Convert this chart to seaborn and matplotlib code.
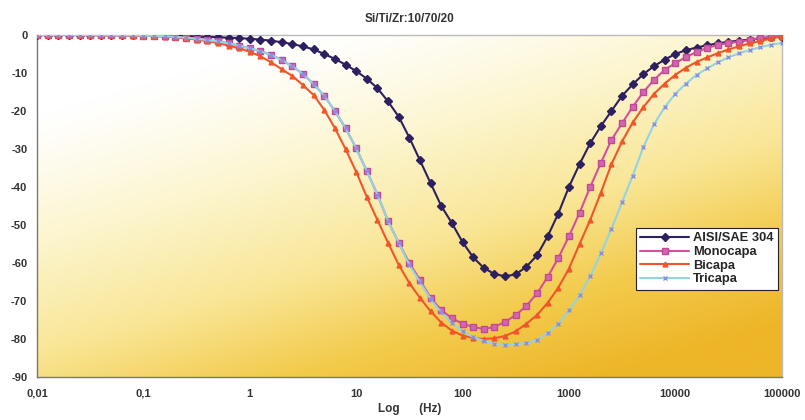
import numpy as np
import pandas as pd
import matplotlib
matplotlib.use("Agg")
import matplotlib.pyplot as plt
import seaborn as sns
from matplotlib.colors import LinearSegmentedColormap

# frequency grid: 10 points per decade, 0.01 Hz .. 100 kHz
freq_hz = 10 ** (np.arange(71) / 10 - 2)

aisi_sae_304 = [
    0, 0, 0, 0, 0, 0, 0, 0, 0, 0,
    0, 0, -0.1, -0.2, -0.3, -0.4, -0.5, -0.6, -0.7, -0.8,
    -1.0, -1.2, -1.5, -1.9, -2.4, -3.0, -3.8, -5.0, -6.3, -7.8,
    -9.5, -11.5, -14.0, -17.5, -21.5, -27.0, -33.0, -39.0, -45.0, -49.5,
    -54.5, -58.5, -61.3, -62.9, -63.5, -63.0, -61.0, -58.0, -53.0, -47.0,
    -40.0, -34.0, -28.5, -24.0, -20.0, -16.0, -13.0, -10.3, -8.2, -6.5,
    -5.0, -4.0, -3.3, -2.7, -2.2, -1.8, -1.5, -1.2, -0.9, -0.6,
    -0.4,
]

monocapa = [
    0, 0, 0, 0, 0, 0, -0.1, -0.1, -0.1, -0.1,
    -0.2, -0.2, -0.3, -0.5, -0.7, -1.0, -1.3, -1.7, -2.2, -2.8,
    -3.5, -4.3, -5.2, -6.6, -8.2, -10.3, -12.9, -16.0, -20.0, -24.5,
    -29.8, -35.8, -42.0, -49.0, -54.7, -60.0, -64.5, -69.2, -72.4, -74.5,
    -76.0, -76.8, -77.4, -76.8, -75.5, -73.7, -71.3, -68.0, -63.7, -58.7,
    -53.0, -46.8, -40.0, -33.7, -27.6, -23.2, -18.9, -15.0, -11.8, -9.2,
    -7.4, -5.8, -4.5, -3.4, -2.6, -2.1, -1.8, -1.3, -0.8, -0.5,
    -0.3,
]

bicapa = [
    0, 0, 0, 0, 0, 0, -0.1, -0.1, -0.1, -0.2,
    -0.2, -0.3, -0.4, -0.6, -0.9, -1.2, -1.6, -2.1, -2.8, -3.5,
    -4.4, -5.6, -7.2, -9.0, -10.8, -13.2, -15.8, -19.7, -24.5, -30.0,
    -36.0, -42.6, -48.7, -54.7, -60.5, -65.3, -69.2, -72.7, -75.7, -77.8,
    -79.1, -79.7, -80.0, -79.8, -79.2, -78.0, -76.0, -73.7, -70.5, -66.5,
    -61.5, -55.0, -48.7, -41.5, -34.0, -28.0, -23.0, -19.0, -15.5, -12.8,
    -10.5, -8.6, -7.1, -5.9, -4.8, -3.8, -3.0, -2.2, -1.6, -0.9,
    -0.4,
]

tricapa = [
    0, 0, 0, 0, 0, 0, -0.1, -0.1, -0.1, -0.1,
    -0.2, -0.2, -0.3, -0.5, -0.7, -1.0, -1.3, -1.7, -2.2, -2.8,
    -3.5, -4.3, -5.2, -6.6, -8.2, -10.3, -12.9, -16.0, -20.0, -24.5,
    -29.8, -35.8, -42.0, -49.0, -54.7, -60.5, -65.0, -69.5, -73.0, -75.8,
    -78.0, -79.5, -80.5, -81.2, -81.5, -81.4, -81.0, -80.3, -78.5, -76.0,
    -72.5, -68.5, -63.5, -57.5, -51.0, -44.0, -37.0, -29.5, -23.5, -19.0,
    -15.5, -12.8, -10.5, -8.8, -7.2, -5.9, -4.8, -4.0, -3.2, -2.6,
    -2.1,
]

series_names = ["AISI/SAE 304", "Monocapa", "Bicapa", "Tricapa"]
series_values = [aisi_sae_304, monocapa, bicapa, tricapa]

x_ticks = [0.01, 0.1, 1, 10, 100, 1000, 10000, 100000]
x_tick_labels = ["0,01", "0,1", "1", "10", "100", "1000", "10000", "100000"]
y_ticks = list(range(-90, 1, 10))

styles = {
    "AISI/SAE 304": dict(color="#2e2060", marker="D", ms=4, mfc="#2e2060", mec="#2e2060"),
    "Monocapa": dict(color="#d4509c", marker="s", ms=5, mfc="#d266ae", mec="#c04a95"),
    "Bicapa": dict(color="#f0562a", marker="^", ms=3.5, mfc="#f0562a", mec="#f0562a"),
    "Tricapa": dict(color="#92d4e4", marker="x", ms=3.5, mfc="#7a8fd8", mec="#8a8ee0"),
}

sns.set_style("white")
plt.rcParams["font.family"] = ["Liberation Sans", "DejaVu Sans"]

fig = plt.figure(figsize=(8.05, 4.2), dpi=100)
ax = fig.add_axes([0.046, 0.1024, 0.925, 0.8143])

# background gradient: white at upper left to golden yellow at lower right
gx, gy = np.meshgrid(np.linspace(0, 1, 300), np.linspace(0, 1, 200))
t = np.clip(0.5 * gx + 0.8 * gy - 0.18, 0, 1) ** 1.2
bg_cmap = LinearSegmentedColormap.from_list(
    "bg", ["#ffffff", "#fcf5cc", "#f9e697", "#f3cb4c", "#eeb528"])
ax.imshow(t, cmap=bg_cmap, extent=[0, 1, 0, 1], transform=ax.transAxes,
          aspect="auto", origin="upper", zorder=0, vmin=0, vmax=1)

for i, (name, vals) in enumerate(zip(series_names, series_values)):
    st = styles[name]
    sns.lineplot(x=freq_hz, y=vals, ax=ax, label=name, color=st["color"],
                 marker=st["marker"], markersize=st["ms"],
                 markerfacecolor=st["mfc"], markeredgecolor=st["mec"],
                 markeredgewidth=1.0, linewidth=1.5, zorder=3 + i)

ax.set_xscale("log")
ax.set_xlim(0.01, 100000)
ax.set_ylim(-90, 0)
ax.set_xticks(x_ticks)
ax.set_xticklabels(x_tick_labels)
ax.xaxis.set_minor_locator(matplotlib.ticker.NullLocator())
ax.set_yticks(y_ticks)
ax.set_yticklabels([str(v) for v in y_ticks])

for lab in ax.get_xticklabels() + ax.get_yticklabels():
    lab.set_fontweight("bold")
    lab.set_fontsize(8)
    lab.set_color("#333333")

ax.tick_params(axis="x", direction="inout", length=5, color="#888888", pad=6)
ax.tick_params(axis="y", direction="out", length=4, color="#888888", pad=3)

for side in ["left", "bottom"]:
    ax.spines[side].set_color("#777777")
    ax.spines[side].set_linewidth(1.0)
for side in ["top", "right"]:
    ax.spines[side].set_color("#bbbbbb")
    ax.spines[side].set_linewidth(1.0)

ax.set_title("Si/Ti/Zr:10/70/20", fontsize=8.5, fontweight="bold",
             color="#333333", pad=9)
ax.set_xlabel("Log      (Hz)", fontsize=8.5, fontweight="bold",
              color="#333333", labelpad=3)
ax.set_ylabel("")

leg = ax.legend(loc="upper left", bbox_to_anchor=(0.804, 0.436),
                frameon=True, fancybox=False, framealpha=1,
                edgecolor="#222222", facecolor="white",
                prop={"weight": "bold", "size": 9.3},
                handlelength=3.8, labelspacing=0.12, borderpad=0.35,
                handletextpad=0.3, borderaxespad=0)
leg.get_frame().set_linewidth(0.8)
leg.set_zorder(10)

fig.savefig("out.png", dpi=100)
